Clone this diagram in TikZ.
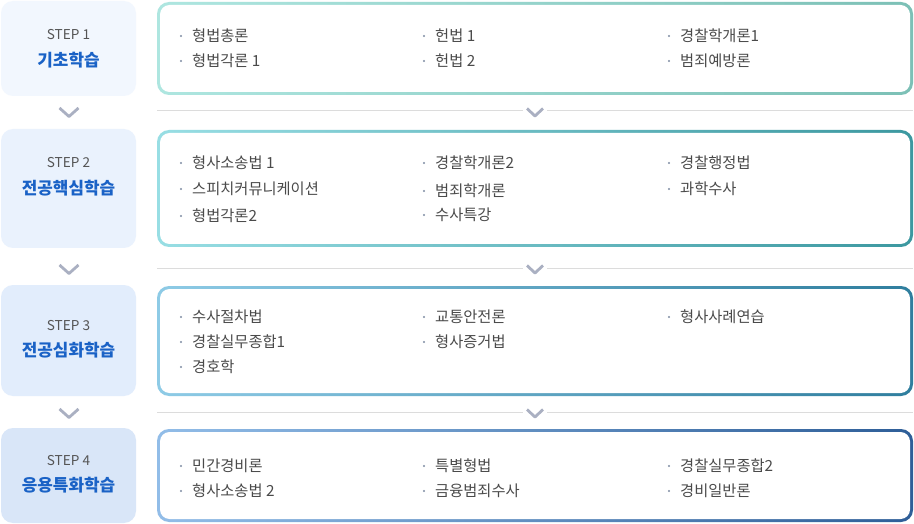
\documentclass[tikz,border=0pt]{standalone}
\usepackage{fontspec}
\setmainfont{Noto Sans CJK KR}
\definecolor{stepgray}{HTML}{555555}
\definecolor{titleblue}{HTML}{1A62C6}
\definecolor{itemgray}{HTML}{4A4A4A}
\definecolor{bulletc}{HTML}{7E8CA3}
\definecolor{sepgray}{HTML}{DCDCDC}
\definecolor{chevgray}{HTML}{AAB0C2}
\definecolor{lf1}{HTML}{F2F7FE}
\definecolor{lf2}{HTML}{EAF2FD}
\definecolor{lf3}{HTML}{E2EDFC}
\definecolor{lf4}{HTML}{D9E6F8}
\definecolor{ba1}{HTML}{AEE6E0}
\definecolor{bb1}{HTML}{7CC0B6}
\definecolor{ba2}{HTML}{98DEE4}
\definecolor{bb2}{HTML}{3C98A0}
\definecolor{ba3}{HTML}{8ECBE6}
\definecolor{bb3}{HTML}{2F7E9E}
\definecolor{ba4}{HTML}{92BDE8}
\definecolor{bb4}{HTML}{2E5E98}
\tikzset{
  leftbox/.style={rounded corners=12pt, inner sep=0pt, minimum width=135},
  outerbox/.style={rounded corners=12pt, inner sep=0pt, minimum width=756},
  innerbox/.style={fill=white, rounded corners=9.5pt, inner sep=0pt, minimum width=750},
  steptag/.style={font=\fontsize{13.6}{15}\selectfont, text=stepgray, anchor=base, inner sep=0pt},
  steptitle/.style={font=\fontsize{16.9}{19}\selectfont\bfseries, text=titleblue, anchor=base, inner sep=0pt},
  item/.style={font=\fontsize{15.3}{17}\selectfont, text=itemgray, anchor=base west, inner sep=0pt},
  sepline/.style={draw=sepgray, line width=1pt},
  chev/.style={draw=chevgray, line width=2.8pt, line join=round}
}
\begin{document}
\begin{tikzpicture}[x=1pt,y=-1pt]
\useasboundingbox (0,0) rectangle (914,524);
\fill[white] (0,0) rectangle (914,524);
% left step boxes
\node[leftbox, fill=lf1, minimum height=95] (s1) at (68.5,48.5) {};
\node[leftbox, fill=lf2, minimum height=119] (s2) at (68.5,188.5) {};
\node[leftbox, fill=lf3, minimum height=111] (s3) at (68.5,340.5) {};
\node[leftbox, fill=lf4, minimum height=95] (s4) at (68.5,475.5) {};
\node[steptag] (t1) at (68.5,40) {STEP 1};
\node[steptag] (t2) at (68.5,167.5) {STEP 2};
\node[steptag] (t3) at (68.5,330) {STEP 3};
\node[steptag] (t4) at (68.5,465) {STEP 4};
\node[steptitle] (h1) at (68.5,66.3) {기초학습};
\node[steptitle] (h2) at (68.5,194.3) {전공핵심학습};
\node[steptitle] (h3) at (68.5,356.3) {전공심화학습};
\node[steptitle] (h4) at (68.5,491.3) {응용특화학습};
% right boxes with gradient borders
\node[outerbox, left color=ba1, right color=bb1, minimum height=93] (b1) at (535,48.5) {};
\node[innerbox, minimum height=87] (w1) at (b1) {};
\node[outerbox, left color=ba2, right color=bb2, minimum height=117] (b2) at (535,188.5) {};
\node[innerbox, minimum height=111] (w2) at (b2) {};
\node[outerbox, left color=ba3, right color=bb3, minimum height=110] (b3) at (535,341) {};
\node[innerbox, minimum height=104] (w3) at (b3) {};
\node[outerbox, left color=ba4, right color=bb4, minimum height=93] (b4) at (535,475.5) {};
\node[innerbox, minimum height=87] (w4) at (b4) {};
% separators and chevrons
\foreach \L/\n in {111/1,268/2,412/3}{
  \coordinate (la\n) at (157,\L);
  \coordinate (lb\n) at (523,\L);
  \coordinate (lc\n) at (547,\L);
  \coordinate (ld\n) at (913,\L);
  \draw[sepline] (la\n) -- (lb\n);
  \draw[sepline] (lc\n) -- (ld\n);
  \draw[chev] (527,\L-2.5) -- (535,\L+5) -- (543,\L-2.5);
  \draw[chev] (59.5,\L-3) -- (69,\L+5.5) -- (78.5,\L-3);
}
% items
\foreach \x/\y/\n/\t in {
  181/36/a1/형법총론, 181/61/a2/형법각론 1,
  424/36/a3/헌법 1, 424/61/a4/헌법 2,
  669/36/a5/경찰학개론1, 669/61/a6/범죄예방론,
  181/163/b1i/형사소송법 1, 181/189/b2i/스피치커뮤니케이션, 181/216/b3i/형법각론2,
  424/163/b4i/경찰학개론2, 424/191/b5i/범죄학개론, 424/215/b6i/수사특강,
  669/163/b7i/경찰행정법, 669/189/b8i/과학수사,
  181/317/c1/수사절차법, 181/342/c2/경찰실무종합1, 181/367/c3/경호학,
  424/317/c4/교통안전론, 424/342/c5/형사증거법,
  669/317/c6/형사사례연습,
  181/466/d1/민간경비론, 181/491/d2/형사소송법 2,
  424/466/d3/특별형법, 424/491/d4/금융범죄수사,
  669/466/d5/경찰실무종합2, 669/491/d6/경비일반론}{
  \fill[bulletc] (\x,\y) circle (1.1);
  \node[item] (\n) at (192+\x-181,\y+5.6) {\t};
}
\end{tikzpicture}
\end{document}
